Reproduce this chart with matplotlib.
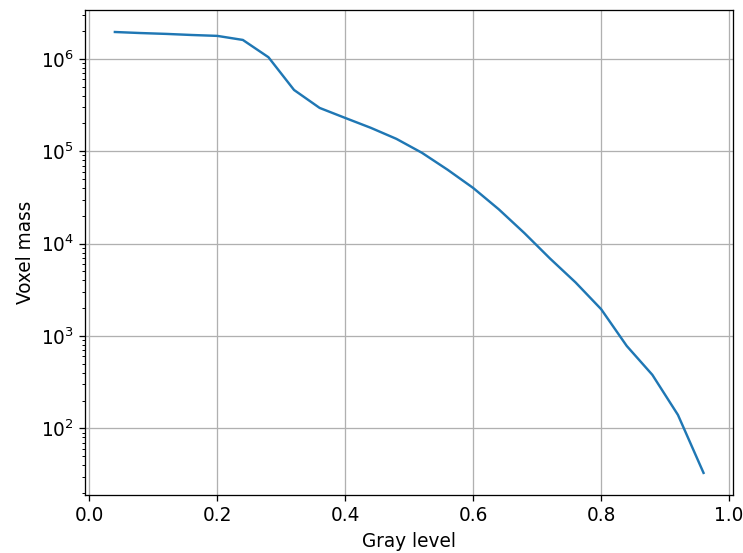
import matplotlib
matplotlib.use('Agg')
import matplotlib.pyplot as plt
import numpy as np

# gray level bins and voxel mass
gray_level = [0.04, 0.08, 0.12, 0.16, 0.20, 0.24, 0.28, 0.32, 0.36, 0.40, 0.44, 0.48,
              0.52, 0.56, 0.60, 0.64, 0.68, 0.72, 0.76, 0.80, 0.84, 0.88, 0.92, 0.96]
voxel_mass = [1.95e6, 1.90e6, 1.86e6, 1.81e6, 1.77e6, 1.60e6, 1.04e6, 4.6e5, 2.94e5, 2.29e5,
              1.79e5, 1.36e5, 9.6e4, 6.3e4, 4.0e4, 2.35e4, 1.3e4, 6.9e3, 3.8e3, 1.95e3,
              7.8e2, 3.8e2, 1.4e2, 33]

plt.rcParams['font.size'] = 11.5

fig = plt.figure(figsize=(743 / 116, 553 / 116), dpi=116)
ax = fig.add_subplot(111)
fig.subplots_adjust(left=0.115, right=0.9865, top=0.982, bottom=0.105)

ax.plot(gray_level, voxel_mass)
ax.set_yscale('log')
ax.grid(True)
ax.set_xlabel('Gray level')
ax.set_ylabel('Voxel mass')

fig.savefig('out.png', dpi=116)
